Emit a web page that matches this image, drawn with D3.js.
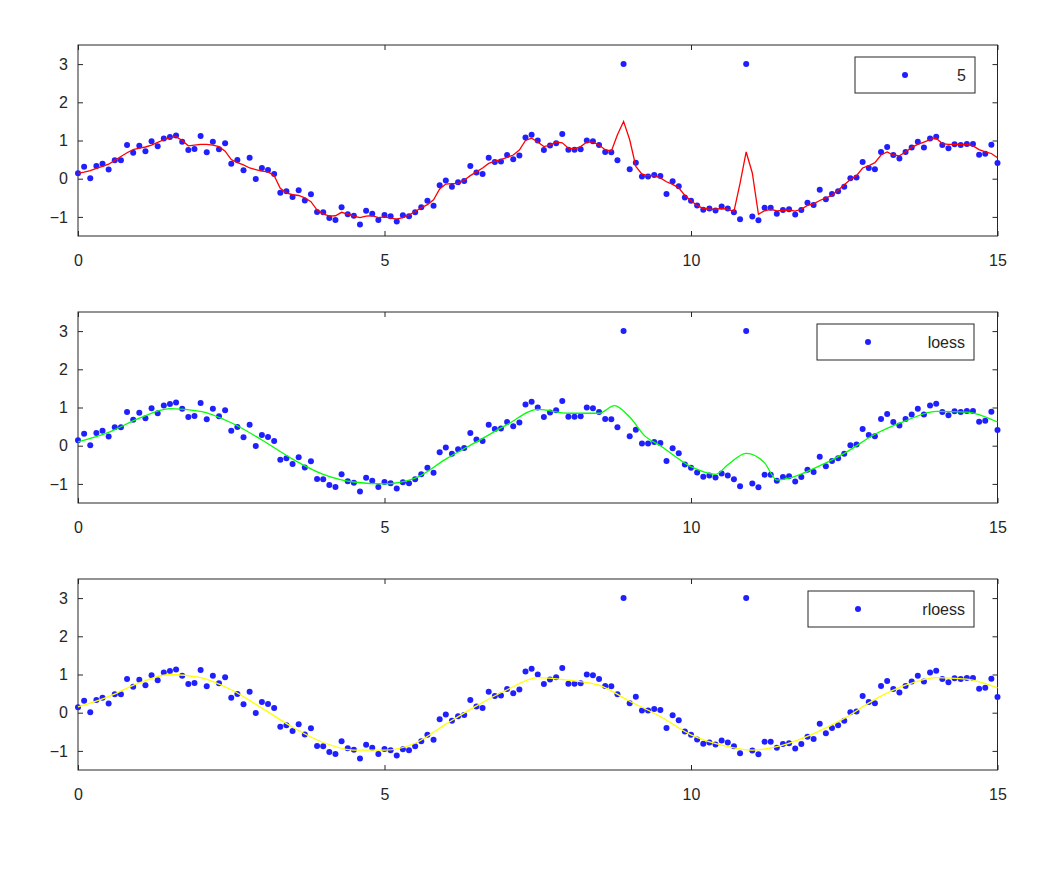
<!DOCTYPE html>
<html>
<head>
<meta charset="utf-8">
<script src="https://cdn.jsdelivr.net/npm/d3@7"></script>
<style>
  body { margin: 0; background: #fff; }
  text { font-family: "Liberation Sans", Arial, sans-serif; }
</style>
</head>
<body>
<div id="chart"></div>
<script>
// sample grid 0:0.1:15
var xs = d3.range(151).map(function(i) { return i / 10; });

// noisy samples, outliers at 8.9 and 10.9
var yNoisy = [
  0.14, 0.31, 0.01, 0.33, 0.39, 0.24, 0.48, 0.48, 0.88, 0.68,
  0.86, 0.72, 0.98, 0.85, 1.05, 1.09, 1.13, 0.97, 0.75, 0.78,
  1.12, 0.69, 0.97, 0.77, 0.93, 0.39, 0.49, 0.22, 0.55, -0.01,
  0.28, 0.23, 0.12, -0.37, -0.33, -0.48, -0.30, -0.57, -0.41, -0.87,
  -0.88, -1.03, -1.08, -0.75, -0.93, -0.97, -1.20, -0.84, -0.92, -1.08,
  -0.95, -0.98, -1.12, -0.96, -0.98, -0.88, -0.75, -0.58, -0.71, -0.17,
  -0.05, -0.21, -0.09, -0.06, 0.33, 0.16, 0.12, 0.55, 0.44, 0.45,
  0.62, 0.51, 0.61, 1.08, 1.15, 1.00, 0.75, 0.87, 0.93, 1.17,
  0.76, 0.76, 0.77, 1.00, 0.98, 0.88, 0.70, 0.69, 0.48, 3.00,
  0.25, 0.42, 0.06, 0.06, 0.10, 0.07, -0.40, -0.07, -0.20, -0.49,
  -0.58, -0.70, -0.81, -0.78, -0.83, -0.73, -0.78, -0.88, -1.06, 3.00,
  -0.99, -1.09, -0.76, -0.76, -0.92, -0.82, -0.80, -0.94, -0.82, -0.63,
  -0.69, -0.29, -0.54, -0.40, -0.33, -0.21, 0.01, 0.03, 0.44, 0.28,
  0.25, 0.70, 0.83, 0.62, 0.53, 0.70, 0.82, 0.97, 0.82, 1.05,
  1.10, 0.88, 0.80, 0.90, 0.88, 0.91, 0.91, 0.63, 0.65, 0.89,
  0.41
];

// span-5 smooth (red), one value per sample
var ySmooth5 = [
  0.14, 0.17, 0.21, 0.27, 0.32, 0.38, 0.48, 0.58, 0.68, 0.76,
  0.80, 0.83, 0.88, 0.95, 1.02, 1.07, 1.10, 1.00, 0.86, 0.88,
  0.90, 0.90, 0.88, 0.84, 0.72, 0.50, 0.42, 0.36, 0.28, 0.24,
  0.20, 0.18, 0.08, -0.25, -0.37, -0.42, -0.44, -0.50, -0.60, -0.82,
  -0.92, -0.98, -0.97, -0.88, -0.93, -0.98, -1.02, -0.98, -0.97, -1.02,
  -1.00, -1.03, -1.06, -1.02, -0.95, -0.86, -0.76, -0.68, -0.55, -0.27,
  -0.14, -0.13, -0.12, -0.04, 0.08, 0.18, 0.28, 0.40, 0.46, 0.50,
  0.56, 0.62, 0.75, 1.00, 1.06, 0.96, 0.84, 0.88, 0.96, 0.94,
  0.80, 0.78, 0.84, 0.96, 0.96, 0.88, 0.76, 0.72, 1.15, 1.50,
  1.02, 0.32, 0.12, 0.08, 0.08, 0.02, -0.08, -0.15, -0.24, -0.44,
  -0.58, -0.70, -0.78, -0.80, -0.80, -0.78, -0.80, -0.86, -0.12, 0.70,
  0.15, -0.93, -0.84, -0.80, -0.84, -0.83, -0.82, -0.85, -0.80, -0.70,
  -0.66, -0.57, -0.50, -0.44, -0.30, -0.16, -0.02, 0.08, 0.28, 0.34,
  0.42, 0.62, 0.70, 0.62, 0.60, 0.70, 0.82, 0.90, 0.96, 1.02,
  1.06, 0.92, 0.90, 0.90, 0.90, 0.90, 0.86, 0.76, 0.70, 0.66,
  0.55
];

// loess (green)
var loessX = [0, 0.5, 1, 1.5, 2, 2.5, 3, 3.5, 4, 4.5, 5, 5.5, 6, 6.5, 7, 7.5, 8, 8.5, 8.75, 9, 9.25, 9.5, 10, 10.4, 10.6, 10.9, 11.2, 11.4, 11.6, 12, 12.5, 13, 13.5, 14, 14.5, 15];
var loessY = [0.1, 0.35, 0.72, 0.97, 0.9, 0.6, 0.15, -0.35, -0.75, -0.95, -1.0, -0.85, -0.35, 0.1, 0.55, 0.95, 0.85, 0.85, 1.05, 0.75, 0.25, 0.0, -0.55, -0.75, -0.5, -0.2, -0.45, -0.9, -0.85, -0.6, -0.2, 0.3, 0.65, 0.9, 0.88, 0.62];

// rloess (yellow)
var rloessX = [0, 0.5, 1, 1.5, 2, 2.5, 3, 3.5, 4, 4.5, 5, 5.5, 6, 6.5, 7, 7.5, 8, 8.5, 9, 9.5, 10, 10.5, 11, 11.5, 12, 12.5, 13, 13.5, 14, 14.5, 15];
var rloessY = [0.15, 0.42, 0.78, 1.0, 0.92, 0.6, 0.12, -0.38, -0.78, -0.98, -0.98, -0.8, -0.3, 0.18, 0.6, 0.92, 0.85, 0.72, 0.3, -0.1, -0.58, -0.85, -0.98, -0.85, -0.55, -0.15, 0.35, 0.72, 0.92, 0.88, 0.65];

var xTicks = [0, 5, 10, 15];
var yTicks = [-1, 0, 1, 2, 3];
var legendNames = ["5", "loess", "rloess"];

var width = 1056, height = 880;
var left = 78, right = 997.5, panelH = 191;
var tops = [45, 312, 579];
var textColor = "#262626";
var dotColor = "#1f1fff";

var svg = d3.select("#chart").append("svg")
    .attr("width", width)
    .attr("height", height);

var x = d3.scaleLinear().domain([0, 15]).range([left, right]);

var panels = [
  { lx: xs, ly: ySmooth5, color: "#ff0000", curve: d3.curveLinear, leg: [855, 975, 905] },
  { lx: loessX, ly: loessY, color: "#00ff00", curve: d3.curveMonotoneX, leg: [817, 974, 868] },
  { lx: rloessX, ly: rloessY, color: "#ffff00", curve: d3.curveMonotoneX, leg: [808, 974, 858] }
];

panels.forEach(function(p, k) {
  var top = tops[k];
  var y = d3.scaleLinear().domain([-1.5, 3.5]).range([top + panelH, top]);
  var g = svg.append("g");

  // axes, ticks pointing inward
  var ax = g.append("g").attr("transform", "translate(0," + (top + panelH) + ")")
      .call(d3.axisBottom(x).tickValues(xTicks).tickSizeInner(-5).tickSizeOuter(0)
        .tickPadding(19).tickFormat(d3.format("d")));
  var ay = g.append("g").attr("transform", "translate(" + left + ",0)")
      .call(d3.axisLeft(y).tickValues(yTicks).tickSizeInner(-5).tickSizeOuter(0)
        .tickPadding(10).tickFormat(d3.format("d")));
  var at = g.append("g").attr("transform", "translate(0," + top + ")")
      .call(d3.axisTop(x).tickValues(xTicks).tickSizeInner(-5).tickSizeOuter(0).tickFormat(""));
  var ar = g.append("g").attr("transform", "translate(" + right + ",0)")
      .call(d3.axisRight(y).tickValues(yTicks).tickSizeInner(-5).tickSizeOuter(0).tickFormat(""));
  [ax, ay, at, ar].forEach(function(a) {
    a.select(".domain").remove();
    a.selectAll("line").attr("stroke", textColor);
    a.selectAll("text").attr("fill", textColor).style("font-size", "16px");
  });

  g.append("rect")
    .attr("x", left).attr("y", top)
    .attr("width", right - left).attr("height", panelH)
    .attr("fill", "none").attr("stroke", textColor).attr("stroke-width", 1);

  // points
  g.append("g").selectAll("circle")
    .data(xs)
    .enter().append("circle")
    .attr("cx", function(d) { return x(d); })
    .attr("cy", function(d, i) { return y(yNoisy[i]); })
    .attr("r", 3)
    .attr("fill", dotColor);

  // smooth line
  var pts = p.lx.map(function(d, i) { return [d, p.ly[i]]; });
  g.append("path")
    .datum(pts)
    .attr("fill", "none")
    .attr("stroke", p.color)
    .attr("stroke-width", 1.3)
    .attr("d", d3.line().curve(p.curve)
      .x(function(d) { return x(d[0]); })
      .y(function(d) { return y(d[1]); }));

  // legend
  var ly0 = top + 12, lh = 36;
  g.append("rect")
    .attr("x", p.leg[0]).attr("y", ly0)
    .attr("width", p.leg[1] - p.leg[0]).attr("height", lh)
    .attr("fill", "#fff").attr("stroke", textColor).attr("stroke-width", 1);
  g.append("circle")
    .attr("cx", p.leg[2]).attr("cy", ly0 + lh / 2)
    .attr("r", 3).attr("fill", dotColor);
  g.append("text")
    .attr("x", p.leg[1] - 9).attr("y", ly0 + lh / 2 + 6)
    .attr("text-anchor", "end")
    .attr("fill", textColor)
    .style("font-size", "16px")
    .text(legendNames[k]);
});
</script>
</body>
</html>
